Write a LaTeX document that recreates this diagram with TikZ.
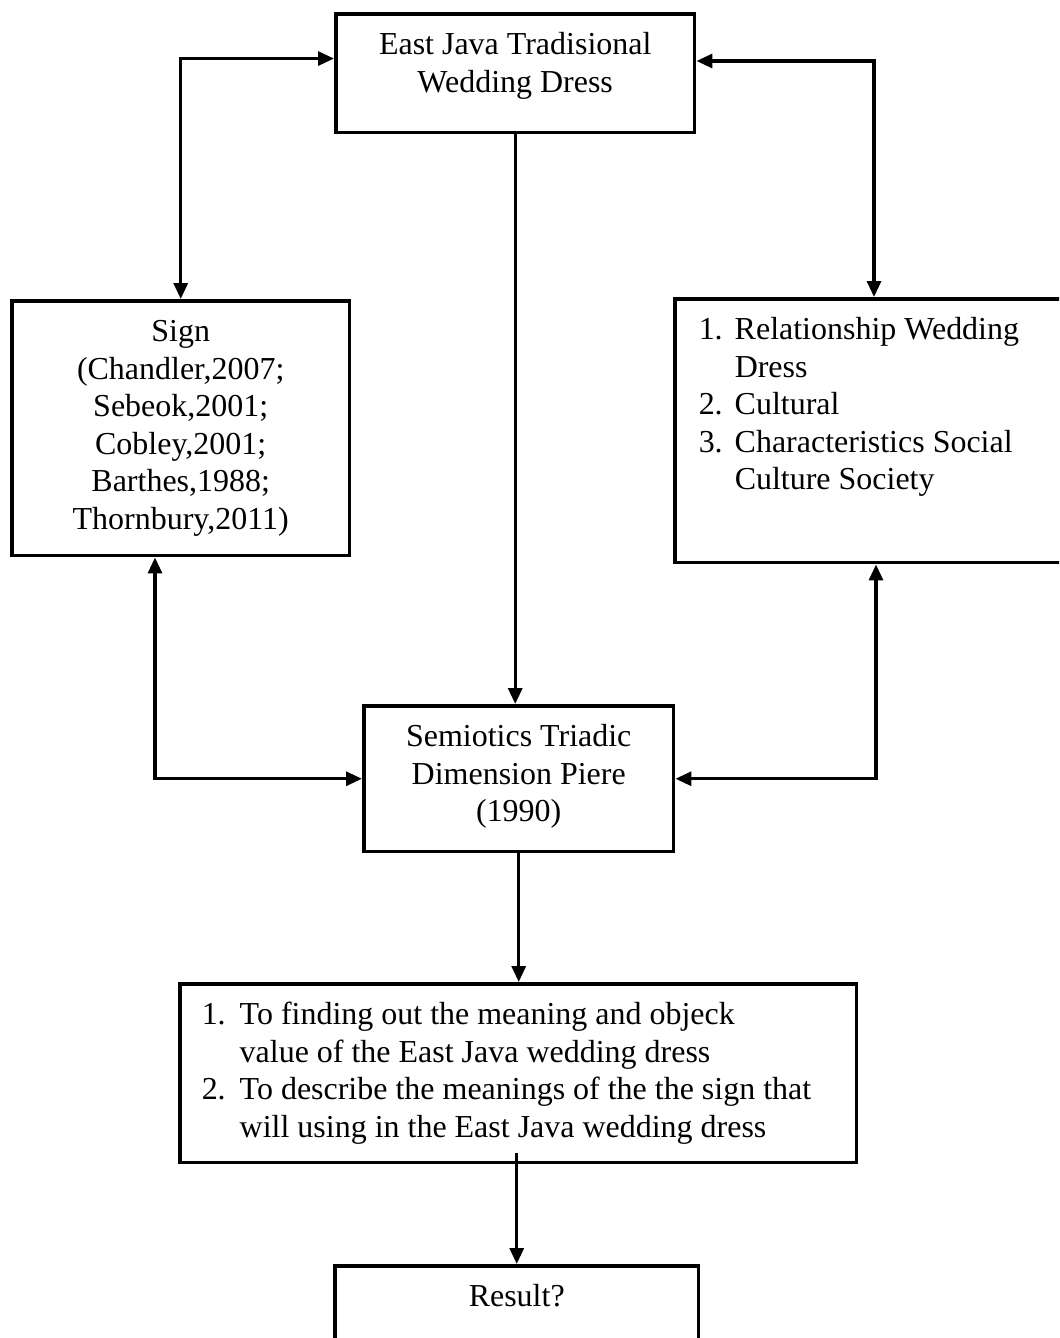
\documentclass[tikz,border=0pt]{standalone}
\usepackage{fontspec}
\setmainfont{Liberation Serif}
\usetikzlibrary{arrows.meta,calc}
\newcommand{\cajatexto}[3]{\parbox[t][#2][t]{#1}{#3}}
\newcommand{\primera}{\rule{0pt}{23.2pt}}
\begin{document}
\begin{tikzpicture}[x=0.02cm,y=-0.02cm,
  >={Triangle[length=0.32cm,width=0.28cm]},
  caja/.style={draw,line width=2pt,inner sep=0pt,anchor=north west,
    font=\fontsize{18.2}{21.4}\selectfont},
  flecha/.style={line width=1.8pt}]
\useasboundingbox (0,0) rectangle (1059,1338);
\clip (0,0) rectangle (1059,1338);
% Cajas
\node[caja] (vestido) at (334,12) {\cajatexto{7.18cm}{2.38cm}{\centering\primera East Java Tradisional\\ Wedding Dress}};
\node[caja] (signo) at (10,299) {\cajatexto{6.76cm}{5.10cm}{\centering\primera Sign\\ (Chandler,2007;\\ Sebeok,2001;\\ Cobley,2001;\\ Barthes,1988;\\ Thornbury,2011)}};
\node[caja] (relacion) at (673,297) {\cajatexto{7.90cm}{5.28cm}{\raggedright\leftskip=0.48cm
  \primera\makebox[0.72cm][l]{1.}Relationship Wedding\\
  \hspace*{0.72cm}Dress\\
  \makebox[0.72cm][l]{2.}Cultural\\
  \makebox[0.72cm][l]{3.}Characteristics Social\\
  \hspace*{0.72cm}Culture Society}};
\node[caja] (semiotica) at (362,704) {\cajatexto{6.20cm}{2.92cm}{\centering\primera Semiotics Triadic\\ Dimension Piere\\ (1990)}};
\node[caja] (objetivo) at (178,982) {\cajatexto{13.54cm}{3.58cm}{\raggedright\leftskip=0.44cm
  \primera\makebox[0.76cm][l]{1.}To finding out the meaning and objeck\\
  \hspace*{0.76cm}value of the East Java wedding dress\\
  \makebox[0.76cm][l]{2.}To describe the meanings of the the sign that\\
  \hspace*{0.76cm}will using in the East Java wedding dress}};
\node[caja] (resultado) at (333,1264) {\cajatexto{7.28cm}{2.00cm}{\centering\primera Result?}};
% Flechas
\draw[flecha,<->] (signo.north) |- ($(vestido.north west)!0.38!(vestido.south west)$);
\draw[flecha,<->] ($(relacion.north west)+(201,0)$) |- ($(vestido.north east)!0.40!(vestido.south east)$);
\draw[flecha,->] (vestido.south) -- (vestido.south |- semiotica.north);
\draw[flecha,<->] ($(signo.south west)+(145,0)$) |- (semiotica.west);
\draw[flecha,<->] ($(relacion.south west)+(203,0)$) |- (semiotica.east);
\draw[flecha,->] (semiotica.south) -- (semiotica.south |- objetivo.north);
\draw[flecha,->] ($(objetivo.south -| resultado.north)+(0,-11)$) -- (resultado.north);
\end{tikzpicture}
\end{document}
